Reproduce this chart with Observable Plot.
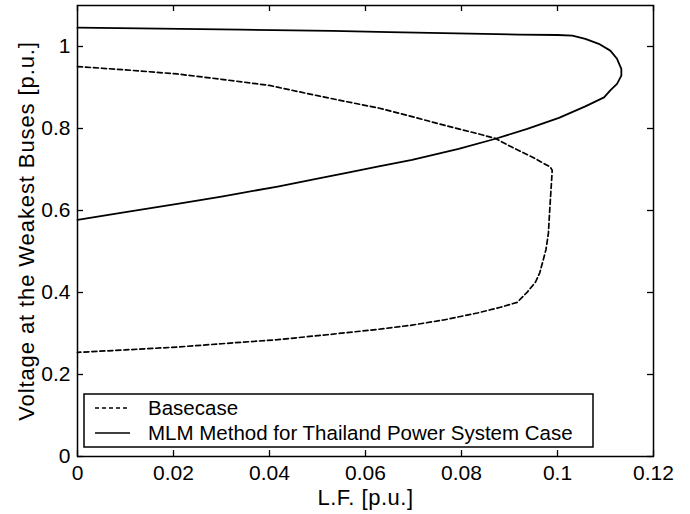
<!DOCTYPE html>
<html>
<head>
<meta charset="utf-8">
<script src="https://cdn.jsdelivr.net/npm/d3@7"></script>
<script src="https://cdn.jsdelivr.net/npm/@observablehq/plot@0.6"></script>
<style>
  html, body { margin: 0; padding: 0; background: #fff; }
</style>
</head>
<body>
<div id="chart"></div>
<script>
const xTicks = [0, 0.02, 0.04, 0.06, 0.08, 0.1, 0.12];
const yTicks = [0, 0.2, 0.4, 0.6, 0.8, 1];
const seriesNames = ["Basecase", "MLM Method for Thailand Power System Case"];
const xLabel = "L.F. [p.u.]";
const yLabel = "Voltage at the Weakest Buses [p.u.]";

// Basecase PV curve (upper branch -> nose -> lower branch)
const basecaseLF = [0, 0.01, 0.0208, 0.03, 0.04, 0.05, 0.0558, 0.0627, 0.0697, 0.0767, 0.0835, 0.087, 0.0906, 0.0948, 0.0985, 0.0989,
  0.0987, 0.0985, 0.0983, 0.0981, 0.0976, 0.097, 0.0963, 0.0954, 0.0937, 0.0916, 0.0881, 0.0833, 0.0763, 0.0694, 0.0625, 0.052, 0.0417, 0.03, 0.0208, 0.01, 0];
const basecaseV = [0.951, 0.943, 0.933, 0.920, 0.905, 0.880, 0.866, 0.850, 0.829, 0.807, 0.787, 0.776, 0.754, 0.730, 0.706, 0.698,
  0.660, 0.624, 0.585, 0.544, 0.505, 0.478, 0.448, 0.425, 0.401, 0.376, 0.364, 0.350, 0.333, 0.320, 0.310, 0.297, 0.285, 0.275, 0.267, 0.260, 0.254];

// MLM method PV curve
const mlmLF = [0, 0.013, 0.034, 0.053, 0.065, 0.079, 0.092, 0.1, 0.1031, 0.1058, 0.1086, 0.111, 0.1124, 0.1133, 0.1133, 0.1124, 0.111, 0.1097,
  0.1058, 0.1003, 0.0937, 0.0871, 0.0794, 0.0697, 0.0625, 0.0558, 0.05, 0.0417, 0.03, 0.0208, 0.01, 0];
const mlmV = [1.046, 1.044, 1.041, 1.038, 1.035, 1.032, 1.029, 1.028, 1.0265, 1.0187, 1.0065, 0.990, 0.970, 0.9456, 0.929, 0.909, 0.893, 0.876,
  0.854, 0.826, 0.799, 0.775, 0.7504, 0.7236, 0.707, 0.691, 0.678, 0.6585, 0.634, 0.616, 0.596, 0.577];

const basecase = basecaseLF.map((x, i) => ({x, y: basecaseV[i]}));
const mlm = mlmLF.map((x, i) => ({x, y: mlmV[i]}));

const FONT = "'Liberation Sans', Arial, Helvetica, sans-serif";
const FS_TICK = 21;
const FS_TITLE = 22;
const FS_LEG = 20.5;
const W = 690, H = 514;
const mL = 77, mR = 37, mT = 5, mB = 58;
const plotW = W - mL - mR, plotH = H - mT - mB;
const tickLen = 6;
const dashed = "5,3";

const legend = () => {
  const g = d3.create("svg:g");
  const bx = mL + 7, by = mT + 389, bw = 509, bh = 53;
  g.append("rect").attr("x", bx).attr("y", by).attr("width", bw).attr("height", bh)
    .attr("fill", "#fff").attr("stroke", "#000").attr("stroke-width", 1.5);
  const rows = [
    {name: seriesNames[0], dash: "4,3", y: by + 14},
    {name: seriesNames[1], dash: null, y: by + 39}
  ];
  for (const r of rows) {
    g.append("line").attr("x1", bx + 11).attr("x2", bx + 46).attr("y1", r.y).attr("y2", r.y)
      .attr("stroke", "#000").attr("stroke-width", 1.6).attr("stroke-dasharray", r.dash);
    g.append("text").attr("x", bx + 64).attr("y", r.y + 7)
      .attr("text-anchor", "start")
      .attr("font-family", FONT).attr("font-size", FS_LEG).attr("fill", "#000").text(r.name);
  }
  return g.node();
};

const chart = Plot.plot({
  width: W, height: H,
  marginLeft: mL, marginRight: mR, marginTop: mT, marginBottom: mB,
  style: {fontFamily: FONT, fontSize: FS_TICK + "px", background: "#fff", color: "#000"},
  x: {domain: [0, 0.12]},
  y: {domain: [0, 1.1]},
  marks: [
    Plot.line(basecase, {x: "x", y: "y", stroke: "#000", strokeWidth: 1.7, strokeDasharray: dashed}),
    Plot.line(mlm, {x: "x", y: "y", stroke: "#000", strokeWidth: 1.8}),
    // inward ticks
    Plot.ruleX(xTicks, {x: d => d, insetTop: plotH - tickLen, stroke: "#000", strokeWidth: 1.3}),
    Plot.ruleX(xTicks, {x: d => d, insetBottom: plotH - tickLen, stroke: "#000", strokeWidth: 1.3}),
    Plot.ruleY(yTicks, {y: d => d, insetRight: plotW - tickLen, stroke: "#000", strokeWidth: 1.3}),
    Plot.ruleY(yTicks, {y: d => d, insetLeft: plotW - tickLen, stroke: "#000", strokeWidth: 1.3}),
    Plot.frame({stroke: "#000", strokeWidth: 1.5}),
    Plot.axisX(xTicks, {tickSize: 0, tickPadding: 9, tickFormat: d => String(d), label: null, fontSize: FS_TICK}),
    Plot.axisY(yTicks, {tickSize: 0, tickPadding: 7, tickFormat: d => String(d), label: null, fontSize: FS_TICK}),
    Plot.text([xLabel], {frameAnchor: "bottom", dy: 41, lineAnchor: "middle", textAnchor: "middle", text: d => d, fontSize: FS_TITLE, fill: "#000"}),
    Plot.text([yLabel], {frameAnchor: "left", dx: -51, rotate: -90, lineAnchor: "middle", textAnchor: "middle", text: d => d, fontSize: FS_TITLE, fill: "#000"}),
    legend
  ]
});
// slightly wider letter spacing on the axis titles, as in the reference
d3.select(chart).selectAll("text").filter(function() { return this.textContent === yLabel; }).attr("letter-spacing", "0.9px");
d3.select(chart).selectAll("text").filter(function() { return this.textContent === xLabel; }).attr("letter-spacing", "0.5px");
document.getElementById("chart").appendChild(chart);
</script>
</body>
</html>
